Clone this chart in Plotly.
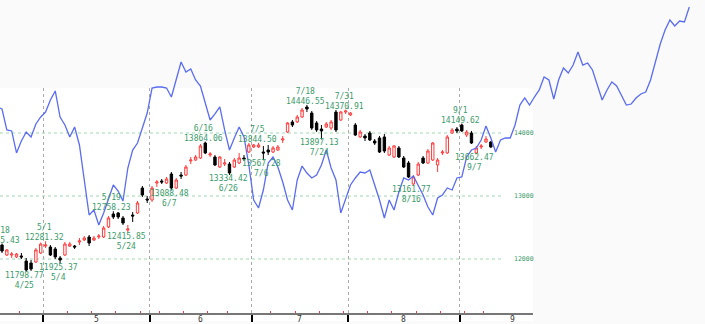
import plotly.graph_objects as go

# ---------------- data ----------------
# trading-day index 0 = 4/18 ... 101 = 9/12
opens = [12222, 12063, 12063, 12032, 12048, 11968, 11937, 11952, 12095, 12206,
         12190, 12159, 12016, 12063, 12206, 12206, 12270, 12302, 12349, 12302,
         12349, 12349, 12508, 12714, 12730, 12651, 12460, 12698, 12730, 13127,
         12952, 12937, 13206, 13238, 13206, 13349, 13127, 13333, 13333, 13556,
         13571, 13603, 13841, 13651, 13619, 13460, 13508, 13508, 13460, 13524,
         13603, 13698, 13778, 13778, 13698, 13730, 13698, 13730, 13889, 14016,
         14175, 14175, 14254, 14413, 14317, 14159, 14063, 14095, 14079, 14333,
         14206, 14333, 14286, 14127, 13937, 13952, 14000, 13873, 13921, 13937,
         13651, 13619, 13762, 13603, 13524, 13190, 13333, 13603, 13524, 13571,
         13492, 13683, 13683, 14000, 14063, 14127, 13968, 14000, 13683, 13778,
         13857, 13857]
highs = [12245.43, 12159, 12111, 12095, 12095, 12016, 11984, 12175, 12262, 12281.32,
         12222, 12190, 12048, 12270, 12270, 12222, 12333, 12365, 12381, 12365,
         12397, 12524, 12683, 12758.23, 12746, 12683, 12540, 12746, 12921, 13159,
         13000, 13159, 13254, 13270, 13302, 13381, 13286, 13381, 13492, 13619,
         13651, 13825, 13864.06, 13698, 13651, 13635, 13587, 13540, 13603, 13683,
         13651, 13841, 13825, 13844.50, 13794, 13810, 13794, 13810, 13952, 14175,
         14206, 14286, 14397, 14446.55, 14349, 14190, 14127, 14175, 14206, 14365,
         14349, 14370.91, 14333, 14159, 14048, 13984, 14032, 13905, 13952, 13984,
         13794, 13810, 13794, 13635, 13556, 13333, 13540, 13635, 13746, 13857,
         13603, 13730, 13968, 14079, 14095, 14149.62, 14048, 14032, 13794, 13825,
         13952, 13873]
lows = [12095, 12048, 12016, 12016, 12000, 11798.77, 11810, 11937, 12079, 12175,
        12048, 12000, 11925.37, 12048, 12190, 12159, 12222, 12286, 12206, 12286,
        12317, 12333, 12492, 12635, 12635, 12540, 12415.85, 12587, 12714, 12984,
        12889, 12905, 13143, 13190, 13190, 13088.48, 13111, 13270, 13317, 13508,
        13556, 13587, 13667, 13619, 13476, 13444, 13476, 13334.42, 13444, 13508,
        13556, 13683, 13762, 13762, 13567.28, 13651, 13683, 13714, 13841, 14000,
        14095, 14159, 14238, 14333, 14048, 14016, 13897.13, 14079, 14048, 14016,
        14190, 14302, 14270, 13952, 13921, 13873, 13873, 13810, 13683, 13683,
        13635, 13603, 13603, 13444, 13286, 13161.77, 13317, 13508, 13508, 13556,
        13381, 13651, 13667, 13984, 14000, 14016, 13937, 13825, 13662.47, 13746,
        13841, 13762]
closes = [12127, 12143, 12079, 12079, 12032, 11825, 11841, 12143, 12238, 12222,
          12063, 12032, 11984, 12238, 12238, 12190, 12286, 12333, 12254, 12333,
          12365, 12492, 12651, 12667, 12667, 12571, 12476, 12683, 12889, 13016,
          12937, 13127, 13222, 13222, 13270, 13127, 13254, 13317, 13460, 13571,
          13619, 13794, 13683, 13667, 13492, 13619, 13524, 13365, 13571, 13603,
          13587, 13810, 13810, 13810, 13683, 13698, 13762, 13778, 13905, 14159,
          14127, 14254, 14365, 14381, 14079, 14048, 14032, 14143, 14175, 14048,
          14333, 14349, 14317, 13968, 14016, 13921, 13889, 13841, 13698, 13714,
          13762, 13794, 13619, 13460, 13302, 13302, 13508, 13524, 13714, 13841,
          13571, 13698, 13937, 14048, 14032, 14032, 14016, 13841, 13762, 13794,
          13905, 13778]

# overlay line (starts one day before the first candle)
blue = [14413, 14381, 14048, 14032, 13683, 13873, 14016, 13937, 14143, 14254,
        14333, 14524, 14667, 14254, 14127, 13937, 14095, 13810, 13254, 12698,
        12778, 12540, 12730, 12937, 13175, 13079, 12921, 13444, 13730, 13841,
        14079, 14317, 14714, 14730, 14730, 14714, 14571, 14873, 15127, 14968,
        15016, 14841, 14746, 14476, 14206, 14302, 14413, 14048, 13730, 13921,
        14095, 13937, 13492, 12937, 12810, 13095, 13524, 13619, 13460, 13222,
        12937, 12778, 13254, 13476, 13365, 13286, 13333, 13492, 13730, 13444,
        13254, 12730, 12937, 13175, 13286, 13381, 13365, 13413, 13175, 12937,
        12651, 12937, 12778, 13063, 13286, 13254, 13317, 13175, 13016, 12825,
        12698, 12968, 13016, 13127, 13095, 13286, 13302, 13619, 13730, 13762,
        13889, 14111, 13921, 13698, 13889, 13921, 13921, 14127, 14444, 14556,
        14444, 14571, 14683, 14889, 14841, 14540, 14841, 15032, 14952, 15079,
        15286, 15079, 15111, 15000, 14762, 14524, 14683, 14810, 14746, 14587,
        14444, 14460, 14556, 14619, 14651, 14841, 15127, 15413, 15635, 15794,
        15698, 15778, 15762, 16000]

month_labels = ["5", "6", "7", "8", "9"]
month_start_idx = [9, 31, 52, 72, 95]
week_start_idx = [4, 14, 19, 24, 29, 33, 38, 43, 47, 56, 61, 66, 71, 76, 81, 86, 91, 96, 100]
grid_values = [12000, 13000, 14000]

label_idx = [0, 5, 9, 12, 23, 26, 35, 42, 47, 53, 54, 63, 66, 71, 85, 95, 98]
label_date = ["4/18", "4/25", "5/1", "5/4", "5/19", "5/24", "6/7", "6/16", "6/26",
              "7/5", "7/6", "7/18", "7/24", "7/31", "8/16", "9/1", "9/7"]
label_kind = ["H", "L", "H", "L", "H", "L", "L", "H", "L",
              "H", "L", "H", "L", "H", "L", "H", "L"]

# ---------------- layout geometry ----------------
W, H = 705, 324
PX0, DX = 2.0, 4.84            # pixel of day 0, pixels per day
PANEL_R = 533                  # right edge of white chart panel (px)
TOP, AXIS_Y = 88, 313          # panel top / x-axis line (px)
def price_at(py):              # vertical scale: 63 px per 1000
    return 14000 + (133 - py) * 1000 / 63

idx = list(range(len(opens)))
bx = list(range(-1, -1 + len(blue)))

green = "#3a9a6a"
mono = "DejaVu Sans Mono"

fig = go.Figure()
fig.add_trace(go.Candlestick(
    x=idx, open=opens, high=highs, low=lows, close=closes,
    increasing=dict(line=dict(color="#ff3b3b", width=1), fillcolor="white"),
    decreasing=dict(line=dict(color="#000000", width=1), fillcolor="#000000"),
    whiskerwidth=0, hoverinfo="skip", xaxis="x", yaxis="y"))
fig.add_trace(go.Scatter(
    x=bx, y=blue, mode="lines", line=dict(color="#5a6cf0", width=1.3),
    hoverinfo="skip", xaxis="x2", yaxis="y2"))

shapes = [dict(type="rect", xref="paper", yref="paper",
               x0=0, x1=PANEL_R / W, y0=3 / H, y1=(H - TOP) / H,
               fillcolor="white", line=dict(width=0), layer="below")]
for g in grid_values:
    shapes.append(dict(type="line", xref="x domain", yref="y", x0=0, x1=504 / PANEL_R,
                       y0=g, y1=g, line=dict(color="#9fd6b4", width=1, dash="dot"),
                       layer="below"))

ann = []
for g in grid_values:
    ann.append(dict(xref="x domain", yref="y", x=512 / PANEL_R, y=g, text=str(g),
                    showarrow=False, xanchor="left", yanchor="middle",
                    font=dict(family=mono, size=6.5, color=green)))
bounds = month_start_idx + [month_start_idx[-1] + 22]
for k, m in enumerate(month_labels):
    ann.append(dict(xref="x", yref="y domain", x=(bounds[k] + bounds[k + 1]) / 2 - 0.45,
                    y=0, text=m, showarrow=False, xanchor="center", yanchor="top",
                    yshift=0, font=dict(family=mono, size=8, color="#333")))
for i, d, kind in zip(label_idx, label_date, label_kind):
    if kind == "H":
        v = highs[i]
        ann.append(dict(xref="x", yref="y", x=i - 0.3, y=v, text=f"{d}<br>{v:.2f}",
                        showarrow=False, yanchor="bottom", yshift=-2, borderpad=0,
                        font=dict(family=mono, size=8, color=green)))
    else:
        v = lows[i]
        ann.append(dict(xref="x", yref="y", x=i - 0.3, y=v, text=f"{v:.2f}<br>{d}",
                        showarrow=False, yanchor="top", yshift=2, borderpad=0,
                        font=dict(family=mono, size=8, color=green)))

sep = [m - 0.45 for m in month_start_idx]
wk = [w - 0.45 for w in week_start_idx]

fig.update_layout(
    width=W, height=H, margin=dict(l=0, r=0, t=0, b=0),
    paper_bgcolor="#fafafa", plot_bgcolor="rgba(0,0,0,0)", showlegend=False,
    xaxis=dict(domain=[0, PANEL_R / W], anchor="y",
               range=[(0 - PX0) / DX, (PANEL_R - PX0) / DX],
               rangeslider=dict(visible=False), tickmode="array", tickvals=sep,
               showticklabels=False, ticks="outside", ticklen=7, tickwidth=1.5,
               tickcolor="#000", showgrid=True, gridcolor="#aaaaaa", griddash="dot",
               gridwidth=1, showline=True, linecolor="#777", linewidth=1.5,
               zeroline=False,
               minor=dict(tickmode="array", tickvals=wk, ticks="inside", ticklen=2,
                          tickcolor="#ff3b3b", tickwidth=1, showgrid=False)),
    yaxis=dict(domain=[(H - AXIS_Y) / H, (H - TOP) / H], anchor="x",
               range=[price_at(AXIS_Y), price_at(TOP)], showgrid=False,
               showticklabels=False, zeroline=False, ticks=""),
    xaxis2=dict(domain=[0, 1], anchor="y2", range=[(0 - PX0) / DX, (W - PX0) / DX],
                visible=False),
    yaxis2=dict(domain=[0, 1], anchor="x2", range=[price_at(H), price_at(0)],
                visible=False),
    shapes=shapes, annotations=ann,
)

fig.write_html("out.html")
